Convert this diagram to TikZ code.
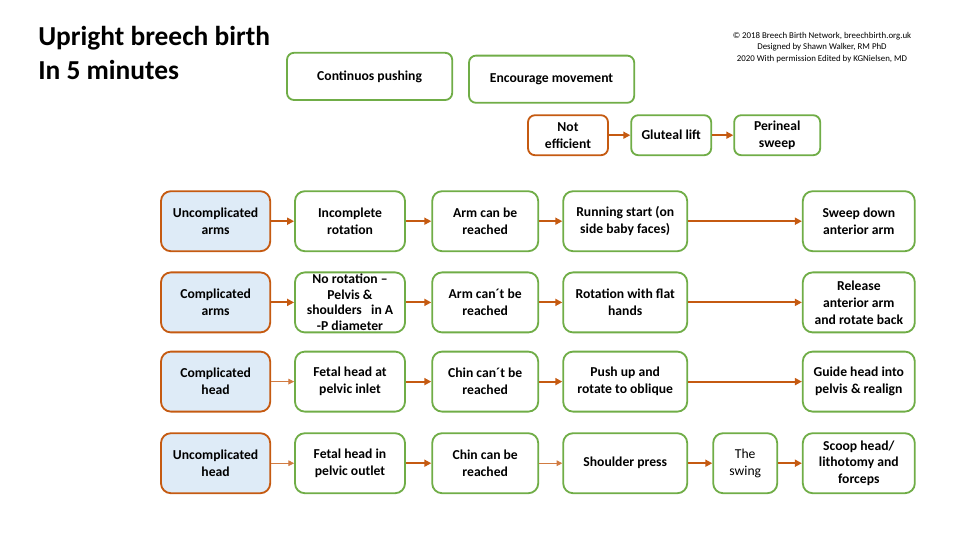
\documentclass[tikz,border=0pt]{standalone}
\usepackage{fontspec}
\setmainfont{Carlito}
\usepackage{xcolor}
\usepackage{tikz}
\usetikzlibrary{arrows.meta}
\definecolor{bbbrown}{RGB}{197,90,17}
\definecolor{bbgreen}{RGB}{112,173,71}
\definecolor{bbblue}{RGB}{222,235,247}

\begin{document}
\begin{tikzpicture}[
  every node/.style={font=\fontsize{9.7}{12}\selectfont\bfseries},
  box/.style={draw=bbgreen, line width=1.3pt, rounded corners=7pt, fill=white, align=center,
    minimum height=1.5cm, inner sep=2pt},
  case/.style={box, draw=bbbrown, fill=bbblue, minimum width=2.73cm},
  colb/.style={box, minimum width=2.75cm},
  colc/.style={box, minimum width=2.65cm},
  cold/.style={box, minimum width=3.1cm},
  cole/.style={box, minimum width=2.8cm},
  small/.style={box, minimum height=1cm, minimum width=2cm, rounded corners=5pt},
  alert/.style={small, draw=bbbrown},
  wide/.style={box, minimum width=4.13cm, minimum height=1.18cm, rounded corners=5pt},
  title/.style={font=\fontsize{19.5}{24.2}\selectfont\bfseries, align=left, anchor=north west, inner sep=0pt},
  credit/.style={font=\fontsize{6.3}{8.2}\selectfont, align=center, inner sep=0pt},
  flow/.style={-{Triangle[length=5pt,width=5pt]}, draw=bbbrown, line width=1.4pt},
  faint/.style={-{Triangle[length=4pt,width=4pt]}, draw=bbbrown!80, line width=0.5pt}
]
  \useasboundingbox (0,0) rectangle (24,-13.5);
  \def\colA{5.39}\def\colB{8.75}\def\colC{12.13}\def\colD{15.63}\def\colS{18.63}\def\colE{21.47}
  \def\rowA{-5.53}\def\rowB{-7.56}\def\rowC{-9.54}\def\rowD{-11.58}

  % heading
  \node[title] (title) at (0.95,-0.66) {Upright breech birth\\In 5 minutes};
  \node[credit] (credit) at (20.55,-1.18) {© 2018 Breech Birth Network, breechbirth.org.uk\\Designed by Shawn Walker, RM PhD\\2020 With permission Edited by KGNielsen, MD};

  % top row: general advice
  \node[wide] (push) at (9.24,-1.91) {Continuos pushing};
  \node[wide] (move) at (13.79,-1.98) {Encourage movement};
  \node[alert] (noteff) at (14.2,-3.38) {Not\\efficient};
  \node[small] (glut) at (16.78,-3.38) {Gluteal lift};
  \node[small, minimum width=2.15cm] (perin) at (19.43,-3.38) {Perineal\\sweep};

  % row: uncomplicated arms
  \node[case] (uarms) at (\colA,\rowA) {Uncomplicated\\arms};
  \node[colb] (incrot) at (\colB,\rowA) {Incomplete\\rotation};
  \node[colc] (armyes) at (\colC,\rowA) {Arm can be\\reached};
  \node[cold] (runst) at (\colD,\rowA) {Running start (on\\side baby faces)};
  \node[cole] (sweep) at (\colE,\rowA) {Sweep down\\anterior arm};

  % row: complicated arms
  \node[case] (carms) at (\colA,\rowB) {Complicated\\arms};
  \node[colb, inner ysep=0pt, font=\fontsize{9.7}{11}\selectfont\bfseries] (norot) at (\colB,\rowB) {No rotation --\\Pelvis \&\\shoulders\ \ \ in A\\-P diameter};
  \node[colc] (armno) at (\colC,\rowB) {Arm can´t be\\reached};
  \node[cold] (flat) at (\colD,\rowB) {Rotation with flat\\hands};
  \node[cole] (release) at (\colE,\rowB) {Release\\anterior arm\\and rotate back};

  % row: complicated head
  \node[case] (chead) at (\colA,\rowC) {Complicated\\head};
  \node[colb] (inlet) at (\colB,\rowC) {Fetal head at\\pelvic inlet};
  \node[colc] (chinno) at (\colC,\rowC) {Chin can´t be\\reached};
  \node[cold] (pushup) at (\colD,\rowC) {Push up and\\rotate to oblique};
  \node[cole] (guide) at (\colE,\rowC) {Guide head into\\pelvis \& realign};

  % row: uncomplicated head
  \node[case] (uhead) at (\colA,\rowD) {Uncomplicated\\head};
  \node[colb] (outlet) at (\colB,\rowD) {Fetal head in\\pelvic outlet};
  \node[colc] (chinyes) at (\colC,\rowD) {Chin can be\\reached};
  \node[cold] (press) at (\colD,\rowD) {Shoulder press};
  \node[box, minimum width=1.6cm, font=\fontsize{9.7}{12}\selectfont] (swing) at (\colS,\rowD) {The\\swing};
  \node[cole] (scoop) at (\colE,\rowD) {Scoop head/\\lithotomy and\\forceps};

  % arrows
  \draw[flow] (noteff) -- (glut);
  \draw[flow] (glut) -- (perin);
  \draw[flow] (uarms) -- (incrot);
  \draw[flow] (incrot) -- (armyes);
  \draw[flow] (armyes) -- (runst);
  \draw[flow] (runst) -- (sweep);
  \draw[flow] (carms) -- (norot);
  \draw[flow] (norot) -- (armno);
  \draw[flow] (armno) -- (flat);
  \draw[flow] (flat) -- (release);
  \draw[faint] (chead) -- (inlet);
  \draw[flow] (inlet) -- (chinno);
  \draw[flow] (chinno) -- (pushup);
  \draw[flow] (pushup) -- (guide);
  \draw[faint] (uhead) -- (outlet);
  \draw[flow] (outlet) -- (chinyes);
  \draw[faint] (chinyes) -- (press);
  \draw[flow] (press) -- (swing);
  \draw[flow] (swing) -- (scoop);
\end{tikzpicture}
\end{document}
